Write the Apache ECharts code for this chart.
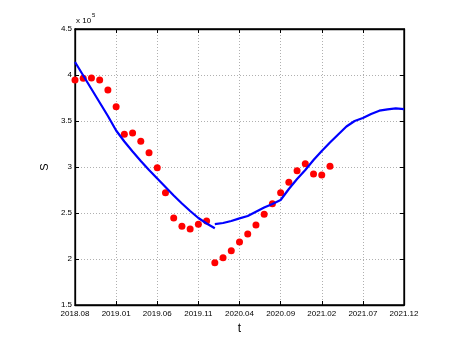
<!DOCTYPE html>
<html>
<head>
<meta charset="utf-8">
<script src="https://cdn.jsdelivr.net/npm/echarts@6/dist/echarts.min.js"></script>
<style>
  html, body { margin: 0; padding: 0; background: #fff; }
  #chart { width: 453px; height: 340px; }
</style>
</head>
<body>
<div id="chart"></div>
<script>
// months on the t axis, one category per month
var months = [
  '2018.08', '2018.09', '2018.10', '2018.11', '2018.12',
  '2019.01', '2019.02', '2019.03', '2019.04', '2019.05',
  '2019.06', '2019.07', '2019.08', '2019.09', '2019.10',
  '2019.11', '2019.12', '2020.01', '2020.02', '2020.03',
  '2020.04', '2020.05', '2020.06', '2020.07', '2020.08',
  '2020.09', '2020.10', '2020.11', '2020.12', '2021.01',
  '2021.02', '2021.03', '2021.04', '2021.05', '2021.06',
  '2021.07', '2021.08', '2021.09', '2021.10', '2021.11',
  '2021.12'
]

// observed S (x 10^5), 2018.08 .. 2021.03
var observed = [
  3.946, 3.964, 3.967, 3.946, 3.837, 3.655, 3.355, 3.370, 3.279, 3.156,
  2.993, 2.721, 2.446, 2.355, 2.326, 2.377, 2.413, 1.960, 2.014, 2.090,
  2.185, 2.272, 2.370, 2.486, 2.601, 2.721, 2.834, 2.960, 3.035, 2.924,
  2.913, 3.007
]

// fitted curve, first part 2018.08 .. 2020.01
var fitBefore = [
  4.141, 3.995, 3.848, 3.701, 3.554, 3.397, 3.277, 3.168, 3.065, 2.967,
  2.875, 2.783, 2.690, 2.603, 2.522, 2.446, 2.386, 2.334
]

// fitted curve, second part 2020.01 .. 2021.12
var fitAfter = [
  2.380, 2.391, 2.413, 2.442, 2.467, 2.514, 2.560, 2.598, 2.641, 2.761,
  2.870, 2.967, 3.076, 3.174, 3.266, 3.353, 3.440, 3.500, 3.533, 3.576,
  3.612, 3.627, 3.638, 3.630
]
var fitAfterStart = 17

var seg2 = []
for (var i = 0; i < fitAfterStart; i++) seg2.push('-')
seg2 = seg2.concat(fitAfter)

var font = 'Liberation Sans, Arial, sans-serif'
var chart = echarts.init(document.getElementById('chart'))

var tickStyle = { inside: true, length: 4, interval: 4, lineStyle: { color: '#000', width: 1 } }

var option = {
  animation: false,
  backgroundColor: '#fff',
  grid: {
    left: 75, right: 49, top: 29, bottom: 35,
    show: true, borderColor: '#000', borderWidth: 1.3, backgroundColor: 'transparent'
  },
  graphic: [{
    type: 'text',
    left: 76,
    top: 12,
    style: {
      text: '{a|x 10}{b|5}',
      rich: {
        a: { fontSize: 8, fontFamily: font, fill: '#000', verticalAlign: 'bottom', padding: [5, 0, 0, 0] },
        b: { fontSize: 6, fontFamily: font, fill: '#000', verticalAlign: 'top', padding: [0, 0, 0, 1] }
      }
    }
  }],
  xAxis: [{
    type: 'category',
    data: months,
    boundaryGap: false,
    position: 'bottom',
    name: 't',
    nameLocation: 'middle',
    nameGap: 17,
    nameTextStyle: { fontSize: 12, fontFamily: font, color: '#000' },
    axisLine: { lineStyle: { color: '#000', width: 1.3 } },
    axisTick: tickStyle,
    axisLabel: { interval: 4, fontSize: 8, fontFamily: font, color: '#000', margin: 5 },
    splitLine: { show: true, interval: 4, lineStyle: { color: '#b0b0b0', type: [1, 2], width: 1 } }
  }, {
    type: 'category',
    data: months,
    boundaryGap: false,
    position: 'top',
    axisLine: { lineStyle: { color: '#000', width: 1.3 } },
    axisTick: tickStyle,
    axisLabel: { show: false },
    splitLine: { show: false }
  }],
  yAxis: [{
    type: 'value',
    min: 1.5, max: 4.5, interval: 0.5,
    position: 'left',
    name: 'S',
    nameLocation: 'middle',
    nameGap: 16,
    nameTextStyle: { fontSize: 11, fontFamily: font, color: '#000' },
    axisLine: { show: true, lineStyle: { color: '#000', width: 1.3 } },
    axisTick: { show: true, inside: true, length: 4, lineStyle: { color: '#000' } },
    axisLabel: { fontSize: 8, fontFamily: font, color: '#000', margin: 3 },
    splitLine: { show: true, lineStyle: { color: '#b0b0b0', type: [1, 2], width: 1 } }
  }, {
    type: 'value',
    min: 1.5, max: 4.5, interval: 0.5,
    position: 'right',
    axisLine: { show: true, lineStyle: { color: '#000', width: 1.3 } },
    axisTick: { show: true, inside: true, length: 4, lineStyle: { color: '#000' } },
    axisLabel: { show: false },
    splitLine: { show: false }
  }],
  series: [{
    name: 'observed',
    type: 'scatter',
    data: observed,
    symbol: 'circle',
    symbolSize: 7,
    itemStyle: { color: '#ff0000', opacity: 1 },
    z: 2
  }, {
    name: 'fit1',
    type: 'line',
    data: fitBefore,
    showSymbol: false,
    lineStyle: { color: '#0000ff', width: 2.2 },
    z: 3
  }, {
    name: 'fit2',
    type: 'line',
    data: seg2,
    showSymbol: false,
    connectNulls: false,
    lineStyle: { color: '#0000ff', width: 2.2 },
    z: 3
  }]
}
chart.setOption(option)
</script>
</body>
</html>
